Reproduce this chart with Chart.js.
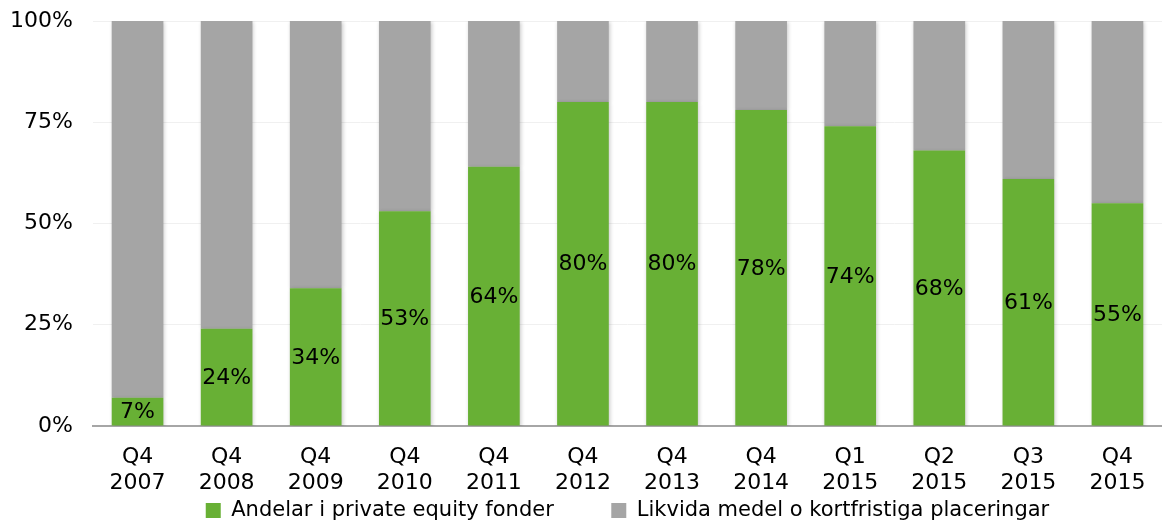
<!DOCTYPE html>
<html>
<head>
<meta charset="utf-8">
<script src="https://cdn.jsdelivr.net/npm/chart.js@4/dist/chart.umd.min.js"></script>
<style>
  html, body { margin: 0; padding: 0; background: #fff; }
  #wrap { width: 1162px; height: 521px; }
</style>
</head>
<body>
<div id="wrap"><canvas id="myChart" width="1162" height="521"></canvas></div>
<script>
// data
var quarters = ['Q4', 'Q4', 'Q4', 'Q4', 'Q4', 'Q4', 'Q4', 'Q4', 'Q1', 'Q2', 'Q3', 'Q4'];
var years = ['2007', '2008', '2009', '2010', '2011', '2012', '2013', '2014', '2015', '2015', '2015', '2015'];
var privateEquity = [7, 24, 34, 53, 64, 80, 80, 78, 74, 68, 61, 55];
var liquid = [93, 76, 66, 47, 36, 20, 20, 22, 26, 32, 39, 45];
var yTicks = [0, 25, 50, 75, 100];

var labels = quarters.map(function(q, i) { return [q, years[i]]; });
var fontFam = '"DejaVu Sans", Verdana, sans-serif';

// soft shadow round the bars + the % inside the green part
var barLabels = {
    id: 'barLabels',
    beforeLayout: function(chart) {
        var lg = chart.legend;
        if (lg && !lg._fixed) {
            var fit = lg.fit;
            lg.fit = function() { fit.call(this); this.height = 26; };
            lg._fixed = true;
        }
    },
    afterLayout: function(chart) {
        // legend centred under the plot, not the whole canvas
        chart.legend.left = chart.chartArea.left;
    },
    beforeDatasetsDraw: function(chart) {
        var ctx = chart.ctx;
        ctx.save();
        ctx.shadowColor = 'rgba(0,0,0,0.22)';
        ctx.shadowBlur = 4;
        ctx.shadowOffsetX = 1;
        ctx.shadowOffsetY = 1;
    },
    afterDatasetsDraw: function(chart) {
        var ctx = chart.ctx;
        ctx.restore();
        var meta = chart.getDatasetMeta(0);
        ctx.save();
        ctx.font = '22px ' + fontFam;
        ctx.fillStyle = '#000';
        ctx.textAlign = 'center';
        ctx.textBaseline = 'middle';
        meta.data.forEach(function(bar, i) {
            var y = (bar.y + bar.base) / 2;
            ctx.fillText(privateEquity[i] + '%', bar.x, y + 1);
        });
        ctx.restore();
    }
};

var ctx = document.getElementById('myChart').getContext('2d');
var myChart = new Chart(ctx, {
    type: 'bar',
    data: {
        labels: labels,
        datasets: [{
            label: 'Andelar i private equity fonder',
            data: privateEquity,
            backgroundColor: '#68b035',
            borderWidth: 0
        }, {
            label: 'Likvida medel o kortfristiga placeringar',
            data: liquid,
            backgroundColor: '#a5a5a5',
            borderWidth: 0
        }]
    },
    options: {
        responsive: false,
        animation: false,
        layout: { padding: { left: 0, right: 0, top: 21, bottom: 0 } },
        datasets: { bar: { categoryPercentage: 1, barPercentage: 0.58 } },
        plugins: {
            legend: {
                position: 'bottom',
                labels: {
                    boxWidth: 15, boxHeight: 15, padding: 5,
                    color: '#000',
                    font: { size: 21, family: fontFam },
                    generateLabels: function(chart) {
                        var items = Chart.defaults.plugins.legend.labels.generateLabels(chart);
                        items[0].text = items[0].text + '\u2003\u2003\u2002';
                        return items;
                    }
                }
            },
            tooltip: { enabled: false }
        },
        scales: {
            x: {
                stacked: true,
                afterFit: function(axis) {
                    axis.height = 69;
                    axis.paddingLeft = 0;
                    axis.paddingRight = 0;
                },
                grid: { display: false, drawTicks: false },
                border: { color: '#a6a6a6', width: 2 },
                ticks: {
                    color: '#000', padding: 18, maxRotation: 0,
                    font: { size: 22, family: fontFam, lineHeight: 1.2 }
                }
            },
            y: {
                stacked: true,
                min: 0, max: 100,
                afterBuildTicks: function(axis) {
                    axis.ticks = yTicks.map(function(v) { return { value: v }; });
                },
                afterFit: function(axis) { axis.width = 93; axis.paddingTop = 0; },
                grid: { color: '#f0f0f0', drawTicks: false },
                border: { display: false },
                ticks: {
                    color: '#000', padding: 20,
                    font: { size: 22, family: fontFam },
                    callback: function(v) { return v + '%'; }
                }
            }
        }
    },
    plugins: [barLabels]
});
</script>
</body>
</html>
